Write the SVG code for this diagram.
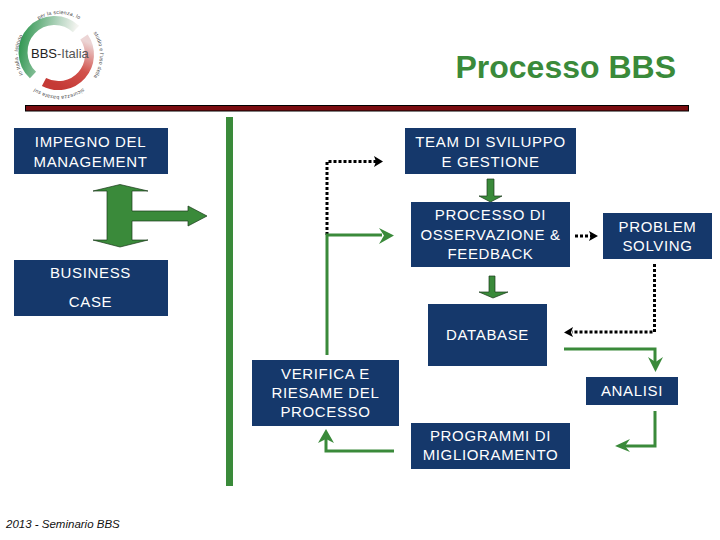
<svg xmlns="http://www.w3.org/2000/svg" width="720" height="540" viewBox="0 0 720 540">
<style>
.box{fill:#15386b}
.t{font-family:"Liberation Sans",Arial,sans-serif;font-size:15px;letter-spacing:.65px;fill:#fff;text-anchor:middle}
.g{fill:none;stroke:#3a8a3a;stroke-width:3}
.d{fill:none;stroke:#000;stroke-width:3;stroke-dasharray:3 2}
.gf{fill:#3a8a3a}
.gb{fill:#3a8a3a;stroke:#1a3a1a;stroke-width:.7}
.r{font-family:"Liberation Sans",Arial,sans-serif;font-size:5.2px;letter-spacing:.2px;fill:#444;text-anchor:middle}
</style>
<defs>
<linearGradient id="gr" x1="0" y1="0" x2="1" y2="0.2"><stop offset="0" stop-color="#2f9650"/><stop offset=".7" stop-color="#bfdac8"/><stop offset="1" stop-color="#f4f4f0"/></linearGradient>
<linearGradient id="rd" x1="0.7" y1="0" x2="0.3" y2="1"><stop offset="0" stop-color="#ecd5d5"/><stop offset=".55" stop-color="#d2524c"/><stop offset="1" stop-color="#c53a36"/></linearGradient>
<path id="a1" d="M30 84A41 41 0 0 1 30 26"/>
<path id="a2" d="M30 26A41 41 0 0 1 88 26"/>
<path id="a3" d="M88 26A41 41 0 0 1 88 84"/>
<path id="a4" d="M88 84A41 41 0 0 1 30 84"/>
</defs>
<rect width="720" height="540" fill="#fff"/>
<g id="logo">
<path d="M33 75A31 31 0 0 1 76 29" fill="none" stroke="url(#gr)" stroke-width="9"/>
<path d="M84 37A31 31 0 0 1 44 82" fill="none" stroke="url(#rd)" stroke-width="9"/>
<text class="r"><textPath href="#a1" startOffset="50%">in Italia - Istituto</textPath></text>
<text class="r"><textPath href="#a2" startOffset="50%">per la scienza, lo</textPath></text>
<text class="r"><textPath href="#a3" startOffset="50%">studio e l'uso della</textPath></text>
<text class="r"><textPath href="#a4" startOffset="50%">sicurezza basata sul</textPath></text>
<text x="31" y="58" font-family="'Liberation Sans',Arial,sans-serif" font-size="13" fill="#222">BBS<tspan fill="#555">-Italia</tspan></text>
</g>
<text id="title" x="676" y="78" text-anchor="end" font-family="'Liberation Sans',Arial,sans-serif" font-size="32" font-weight="bold" fill="#3a8a3a">Processo BBS</text>
<rect id="bar" x="25.500" y="105.500" width="663" height="5.500" fill="#7a0c10" stroke="#000"/>
<rect id="divider" x="226" y="117" width="7" height="369" class="gf"/>
<g id="connectors">
<path class="gb" d="M120 184.500L148 191H132V211H188V206L207 216L188 226V221H132V240H148L120 247L93 240H107V191H93Z"/>
<path class="gb" d="M487 179H494V196H502L490.500 202L479 196H487Z"/>
<path class="gb" d="M489 276H495V292H508L493 298L479 292H489Z"/>
<path class="d" d="M327 235V161.500H376"/>
<path d="M374 156L383 161.500L374 167L376 161.500Z"/>
<path class="g" d="M327 355V235H382"/>
<path class="gf" d="M379 228L394 235.500L379 244L384 235.500Z"/>
<path class="d" d="M575 236H591"/>
<path d="M589 231L598 236L589 241L591 236Z"/>
<path class="d" d="M654.500 264V332H572"/>
<path d="M573 327L564 332.500L573 337L571 332.500Z"/>
<path class="g" d="M564 349H655V362"/>
<path class="gf" d="M648 357L655.500 372L663 357L655.500 362Z"/>
<path class="g" d="M655 411V446H622"/>
<path class="gf" d="M630 439L615 446L630 452L625 446Z"/>
<path class="g" d="M394 451H326V438"/>
<path class="gf" d="M318 443L326 429L334 443L326 439Z"/>
</g>
<g id="impegno"><rect class="box" x="14" y="128" width="154" height="46"/><text class="t" x="90.500" y="147">IMPEGNO DEL</text><text class="t" x="90.500" y="167">MANAGEMENT</text></g>
<g id="business"><rect class="box" x="14" y="260" width="154" height="56"/><text class="t" x="90.500" y="278">BUSINESS</text><text class="t" x="90.500" y="307">CASE</text></g>
<g id="team"><rect class="box" x="405" y="128" width="171" height="46"/><text class="t" x="490.500" y="147">TEAM DI SVILUPPO</text><text class="t" x="490.500" y="167">E GESTIONE</text></g>
<g id="processo"><rect class="box" x="411" y="202" width="159" height="65"/><text class="t" x="490.500" y="220">PROCESSO DI</text><text class="t" x="490.500" y="240">OSSERVAZIONE &amp;</text><text class="t" x="490.500" y="259">FEEDBACK</text></g>
<g id="problem"><rect class="box" x="603" y="213" width="109" height="46"/><text class="t" x="657.500" y="232">PROBLEM</text><text class="t" x="657.500" y="251">SOLVING</text></g>
<g id="database"><rect class="box" x="428" y="304" width="119" height="62"/><text class="t" x="487.500" y="340">DATABASE</text></g>
<g id="analisi"><rect class="box" x="586" y="377" width="92" height="28"/><text class="t" x="632" y="396">ANALISI</text></g>
<g id="verifica"><rect class="box" x="252" y="360" width="147" height="66"/><text class="t" x="325.500" y="379">VERIFICA E</text><text class="t" x="325.500" y="398">RIESAME DEL</text><text class="t" x="325.500" y="417">PROCESSO</text></g>
<g id="programmi"><rect class="box" x="411" y="423" width="159" height="46"/><text class="t" x="490.500" y="441">PROGRAMMI DI</text><text class="t" x="490.500" y="460">MIGLIORAMENTO</text></g>
<text id="footer" x="6" y="528" font-family="'Liberation Sans',Arial,sans-serif" font-size="11.500" font-style="italic" fill="#111">2013 - Seminario BBS</text>
</svg>
